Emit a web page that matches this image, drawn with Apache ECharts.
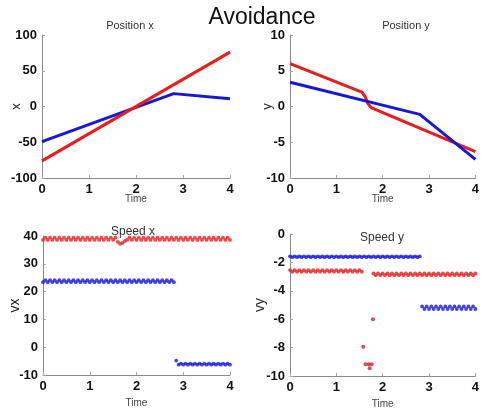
<!DOCTYPE html>
<html><head><meta charset="utf-8">
<script src="https://cdn.jsdelivr.net/npm/echarts@6/dist/echarts.min.js"></script>
<style>html,body{margin:0;padding:0;background:#fff}#c{width:482px;height:413px}</style>
</head><body><div id="c"></div>
<script>
// ---- data ----
const posXTitle = 'Position x', posYTitle = 'Position y', spdXTitle = 'Speed x', spdYTitle = 'Speed y';
const mainTitle = 'Avoidance';
// position x (time, value) breakpoints
const posXBlue = [[0, -49], [2.8, 18], [4, 11]];
const posXRed = [[0, -76], [4, 76]];
// position y
const posYBlue = [[0, 3.4], [2.8, -1.1], [4, -7.4]];
const posYRed = [[0, 6.0], [1.55, 2.0], [1.62, 1.4], [1.68, 0.4], [1.76, -0.2], [4, -6.3]];
// sample times for speeds
const T = [0,0.05,0.1,0.15,0.2,0.25,0.3,0.35,0.4,0.45,0.5,0.55,0.6,0.65,0.7,0.75,0.8,0.85,0.9,0.95,
1,1.05,1.1,1.15,1.2,1.25,1.3,1.35,1.4,1.45,1.5,1.55,1.6,1.65,1.7,1.75,1.8,1.85,1.9,1.95,
2,2.05,2.1,2.15,2.2,2.25,2.3,2.35,2.4,2.45,2.5,2.55,2.6,2.65,2.7,2.75,2.8,2.85,2.9,2.95,
3,3.05,3.1,3.15,3.2,3.25,3.3,3.35,3.4,3.45,3.5,3.55,3.6,3.65,3.7,3.75,3.8,3.85,3.9,3.95,4];
const vxRed = [38.6,39.4,38.6,39.4,38.6,39.4,38.6,39.4,38.6,39.4,38.6,39.4,38.6,39.4,38.6,39.4,38.6,39.4,38.6,39.4,
38.6,39.4,38.6,39.4,38.6,39.4,38.6,39.4,38.6,39.4,38.6,39.4,37.9,37.2,37.5,38.2,38.6,39.4,38.6,39.4,
38.6,39.4,38.6,39.4,38.6,39.4,38.6,39.4,38.6,39.4,38.6,39.4,38.6,39.4,38.6,39.4,38.6,39.4,38.6,39.4,
38.6,39.4,38.6,39.4,38.6,39.4,38.6,39.4,38.6,39.4,38.6,39.4,38.6,39.4,38.6,39.4,38.6,39.4,38.6,39.4,38.6];
const vxBlue = [23.4,24.1,23.4,24.1,23.4,24.1,23.4,24.1,23.4,24.1,23.4,24.1,23.4,24.1,23.4,24.1,23.4,24.1,23.4,24.1,
23.4,24.1,23.4,24.1,23.4,24.1,23.4,24.1,23.4,24.1,23.4,24.1,23.4,24.1,23.4,24.1,23.4,24.1,23.4,24.1,
23.4,24.1,23.4,24.1,23.4,24.1,23.4,24.1,23.4,24.1,23.4,24.1,23.4,24.1,23.4,24.1,23.4,-4.8,-6.3,-5.9,
-6.3,-5.9,-6.3,-5.9,-6.3,-5.9,-6.3,-5.9,-6.3,-5.9,-6.3,-5.9,-6.3,-5.9,-6.3,-5.9,-6.3,-5.9,-6.3,-5.9,-6.3];
const vyRed = [-2.54,-2.66,-2.54,-2.66,-2.54,-2.66,-2.54,-2.66,-2.54,-2.66,-2.54,-2.66,-2.54,-2.66,-2.54,-2.66,-2.54,-2.66,-2.54,-2.66,
-2.54,-2.66,-2.54,-2.66,-2.54,-2.66,-2.54,-2.66,-2.54,-2.66,-2.54,-2.66,null,null,null,null,-2.78,-2.9,-2.78,-2.9,
-2.78,-2.9,-2.78,-2.9,-2.78,-2.9,-2.78,-2.9,-2.78,-2.9,-2.78,-2.9,-2.78,-2.9,-2.78,-2.9,-2.78,-2.9,-2.78,-2.9,
-2.78,-2.9,-2.78,-2.9,-2.78,-2.9,-2.78,-2.9,-2.78,-2.9,-2.78,-2.9,-2.78,-2.9,-2.78,-2.9,-2.78,-2.9,-2.78,-2.9,-2.78];
const vyBlue = [-1.57,-1.63,-1.57,-1.63,-1.57,-1.63,-1.57,-1.63,-1.57,-1.63,-1.57,-1.63,-1.57,-1.63,-1.57,-1.63,-1.57,-1.63,-1.57,-1.63,
-1.57,-1.63,-1.57,-1.63,-1.57,-1.63,-1.57,-1.63,-1.57,-1.63,-1.57,-1.63,-1.57,-1.63,-1.57,-1.63,-1.57,-1.63,-1.57,-1.63,
-1.57,-1.63,-1.57,-1.63,-1.57,-1.63,-1.57,-1.63,-1.57,-1.63,-1.57,-1.63,-1.57,-1.63,-1.57,-1.63,-1.57,-5.1,-5.28,-5.1,
-5.28,-5.1,-5.28,-5.1,-5.28,-5.1,-5.28,-5.1,-5.28,-5.1,-5.28,-5.1,-5.28,-5.1,-5.28,-5.1,-5.28,-5.1,-5.28,-5.1,-5.28];
const outT = [1.58, 1.63, 1.70, 1.76, 1.72, 1.79];
const outV = [-7.94, -9.18, -9.18, -9.18, -9.46, -6.0];
// axis ticks
const xTicks = {min: 0, max: 4, interval: 1};
const yPosX = {min: -100, max: 100, interval: 50};
const yPosY = {min: -10, max: 10, interval: 5};
const ySpdX = {min: -10, max: 40, interval: 10};
const ySpdY = {min: -10, max: 0, interval: 2};

// ---- chart ----
const RED = '#ec1c1c', BLUE = '#1717d9';
const pairs = (ts, vs) => ts.map((t, i) => [t, vs[i]]).filter(p => p[1] !== null);
const axisCommon = {
  axisLine: {show: true, onZero: false, lineStyle: {color: '#8a8a8a', width: 1}},
  axisTick: {show: true, inside: true, length: 3, lineStyle: {color: '#aaa'}},
  splitLine: {show: false},
  axisLabel: {fontFamily: 'Liberation Sans, Arial', fontWeight: 'bold', fontSize: 13, color: '#111'}
};
function xa(gi, gap) {
  return Object.assign({}, axisCommon, {type: 'value', gridIndex: gi, min: xTicks.min, max: xTicks.max, interval: xTicks.interval,
    name: 'Time', nameLocation: 'middle', nameGap: gap, nameMoveOverlap: false,
    nameTextStyle: {fontFamily: 'Liberation Sans, Arial', fontSize: 10, color: '#444'},
    axisLabel: Object.assign({}, axisCommon.axisLabel, {margin: 5})});
}
function ya(gi, r, name, gap, fs) {
  return Object.assign({}, axisCommon, {type: 'value', gridIndex: gi, min: r.min, max: r.max, interval: r.interval,
    name: name, nameLocation: 'middle', nameGap: gap, nameMoveOverlap: false,
    nameTextStyle: {fontFamily: 'Liberation Sans, Arial', fontSize: fs, color: '#222'},
    axisLabel: Object.assign({}, axisCommon.axisLabel, {margin: 5})});
}
const subStyle = {fontFamily: 'Liberation Sans, Arial', fontSize: 11, fontWeight: 'normal', color: '#333'};
const option = {
  animation: false,
  backgroundColor: '#fff',
  title: [
    {text: mainTitle, left: 257, top: 1, textAlign: 'center', textStyle: {fontFamily: 'Liberation Sans, Arial', fontSize: 23, fontWeight: 'normal', color: '#111'}},
    {text: posXTitle, left: 125, top: 15, textAlign: 'center', textStyle: subStyle},
    {text: posYTitle, left: 401, top: 15, textAlign: 'center', textStyle: subStyle},
    {text: spdXTitle, left: 128, top: 221, textAlign: 'center', textStyle: Object.assign({}, subStyle, {fontSize: 12})},
    {text: spdYTitle, left: 377, top: 227, textAlign: 'center', textStyle: Object.assign({}, subStyle, {fontSize: 12})}
  ],
  grid: [
    {left: 42, top: 35, width: 188, height: 143},
    {left: 290, top: 35, width: 187, height: 143},
    {left: 43, top: 236, width: 187, height: 139},
    {left: 290, top: 234, width: 188, height: 142}
  ],
  xAxis: [xa(0, 16), xa(1, 16), xa(2, 23), xa(3, 23)],
  yAxis: [ya(0, yPosX, 'x', 19, 13), ya(1, yPosY, 'y', 16, 13), ya(2, ySpdX, 'vx', 21, 14), ya(3, ySpdY, 'vy', 23, 14)],
  series: [
    {type: 'line', xAxisIndex: 0, yAxisIndex: 0, data: posXBlue, showSymbol: false, lineStyle: {color: BLUE, width: 3}, z: 2},
    {type: 'line', xAxisIndex: 0, yAxisIndex: 0, data: posXRed, showSymbol: false, lineStyle: {color: RED, width: 3}, z: 3},
    {type: 'line', xAxisIndex: 1, yAxisIndex: 1, data: posYRed, showSymbol: false, lineStyle: {color: RED, width: 3}, z: 2},
    {type: 'line', xAxisIndex: 1, yAxisIndex: 1, data: posYBlue, showSymbol: false, lineStyle: {color: BLUE, width: 3}, z: 3},
    {type: 'scatter', xAxisIndex: 2, yAxisIndex: 2, data: pairs(T, vxRed), symbolSize: 3.8, itemStyle: {color: RED}},
    {type: 'scatter', xAxisIndex: 2, yAxisIndex: 2, data: pairs(T, vxBlue), symbolSize: 3.8, itemStyle: {color: BLUE}},
    {type: 'scatter', xAxisIndex: 3, yAxisIndex: 3, data: pairs(T, vyBlue), symbolSize: 3.8, itemStyle: {color: BLUE}},
    {type: 'scatter', xAxisIndex: 3, yAxisIndex: 3, data: pairs(T, vyRed), symbolSize: 3.8, itemStyle: {color: RED}},
    {type: 'scatter', xAxisIndex: 3, yAxisIndex: 3, data: pairs(outT, outV), symbolSize: 4, itemStyle: {color: '#d0202a'}}
  ]
};
const chart = echarts.init(document.getElementById('c'), null, {renderer: 'canvas'});
chart.setOption(option);
</script></body></html>
